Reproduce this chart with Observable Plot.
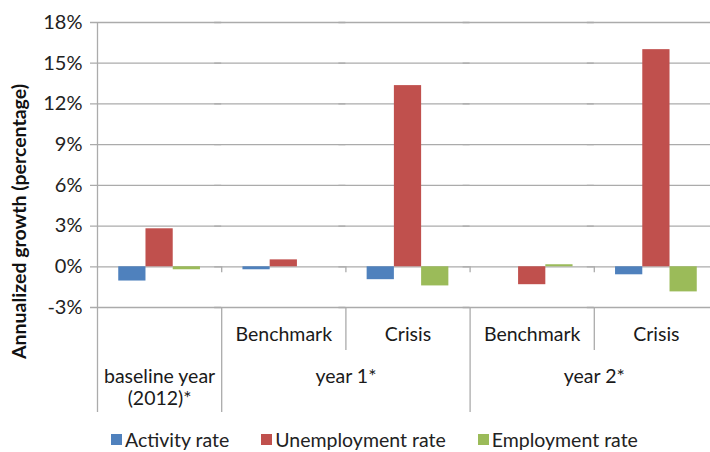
<!DOCTYPE html>
<html><head><meta charset="utf-8">
<script src="https://cdn.jsdelivr.net/npm/d3@7"></script>
<script src="https://cdn.jsdelivr.net/npm/@observablehq/plot@0.6"></script>
<style>
html,body{margin:0;padding:0;background:#fff;overflow:hidden;}
#chart svg{display:block;overflow:hidden;}
.lg-swatches{font-family:Lato, sans-serif !important;font-size:19.5px !important;color:#222 !important;margin:8px 0 0 111px !important;min-height:0 !important;}
.lg-swatch{margin-right:32px !important;}
.lg-swatch > svg{margin-right:3px !important;}
</style></head><body><div id="chart"></div><script>
const categories = ["baseline", "y1-benchmark", "y1-crisis", "y2-benchmark", "y2-crisis"];
const scenarioLabels = ["", "Benchmark", "Crisis", "Benchmark", "Crisis"];
const periodLabels = ["baseline year\n(2012)*", "year 1*", "year 2*"];
const series = ["Activity rate", "Unemployment rate", "Employment rate"];
const activityRate = [-1.05, -0.22, -0.95, 0, -0.59];
const unemploymentRate = [2.8, 0.51, 13.35, -1.32, 16.0];
const employmentRate = [-0.22, 0, -1.41, 0.15, -1.85];
const yTicks = [-3, 0, 3, 6, 9, 12, 15, 18];
const colors = ["#4F81BD", "#C0504D", "#9BBB59"];
const yTitle = "Annualized growth (percentage)";

const seriesValues = [activityRate, unemploymentRate, employmentRate];
const data = [];
categories.forEach((c, i) => series.forEach((s, j) => data.push({cat: c, series: s, value: seriesValues[j][i]})));

const W = 710, H = 420, mL = 97, mR = -8, mT = 22, mB = 113;
const frameH = H - mT - mB;
const facetW = (W - mL - mR) / categories.length;
const pOuter = 0.78;
const step = facetW / (series.length + 2 * pOuter);
const edgeDx = -(pOuter * step + step / 2);
const grid = "#ababab";
const font = "Lato, sans-serif";
const fs = 19.5;

const scen = categories.map((c, i) => ({cat: c, label: scenarioLabels[i]})).filter(d => d.label);
const periodFirst = [{cat: categories[0], label: periodLabels[0]}];
const periodOthers = [{cat: categories[1], label: periodLabels[1]}, {cat: categories[3], label: periodLabels[2]}];
const axisLine = [{cat: categories[0]}];
const longSeps = [{cat: categories[1]}, {cat: categories[3]}];
const shortSeps = [{cat: categories[2]}, {cat: categories[4]}];
const zeroTicks = categories.slice(1).map(c => ({cat: c}));

const plot = Plot.plot({
  width: W, height: H,
  marginLeft: mL, marginRight: mR, marginTop: mT, marginBottom: mB,
  style: {fontFamily: font, fontSize: "20px", color: "#222", background: "#fff"},
  fx: {domain: categories, padding: 0, round: false, axis: null, label: null},
  x: {domain: series, paddingInner: 0, paddingOuter: pOuter, round: false, axis: null, label: null},
  y: {domain: [-3, 18], ticks: yTicks, tickFormat: d => d + "%", tickSize: 0, tickPadding: 15, label: null},
  color: {domain: series, range: colors},
  marks: [
    Plot.gridY(yTicks, {stroke: grid, strokeOpacity: 1, strokeWidth: 1.3, insetLeft: -7}),
    Plot.barY(data, {fx: "cat", x: "series", y: "value", fill: "series"}),
    Plot.ruleX(axisLine, {fx: "cat", x: () => series[0], dx: edgeDx, stroke: grid, strokeWidth: 1.3, insetBottom: -105}),
    Plot.ruleX(longSeps, {fx: "cat", x: () => series[0], dx: edgeDx, stroke: grid, strokeWidth: 1.3, insetTop: frameH, insetBottom: -105}),
    Plot.ruleX(shortSeps, {fx: "cat", x: () => series[0], dx: edgeDx, stroke: grid, strokeWidth: 1.3, insetTop: frameH, insetBottom: -43}),
    Plot.ruleX(zeroTicks, {fx: "cat", x: () => series[0], dx: edgeDx, y1: 0, y2: 0, stroke: grid, strokeWidth: 1.3, insetBottom: -6}),
    Plot.text(scen, {fx: "cat", text: "label", frameAnchor: "bottom", dy: 27, lineAnchor: "middle", fill: "#1a1a1a", fontSize: fs}),
    Plot.text(periodFirst, {fx: "cat", text: "label", frameAnchor: "bottom", dy: 60, lineAnchor: "top", lineHeight: 1.13, fill: "#1a1a1a", fontSize: fs}),
    Plot.text(periodOthers, {fx: "cat", text: "label", frameAnchor: "bottom-right", textAnchor: "middle", dy: 60, lineAnchor: "top", lineHeight: 1.13, fill: "#1a1a1a", fontSize: fs}),
    Plot.text([{cat: categories[0], label: yTitle}], {fx: "cat", text: "label", frameAnchor: "left", textAnchor: "middle", lineAnchor: "middle", rotate: -90, dx: -78, dy: 56.5, fontWeight: "bold", fontSize: 19.5, fill: "#111"})
  ]
});
document.getElementById("chart").appendChild(plot);
const legend = plot.legend("color", {className: "lg", swatchSize: 11});
document.getElementById("chart").appendChild(legend);
</script></body></html>
